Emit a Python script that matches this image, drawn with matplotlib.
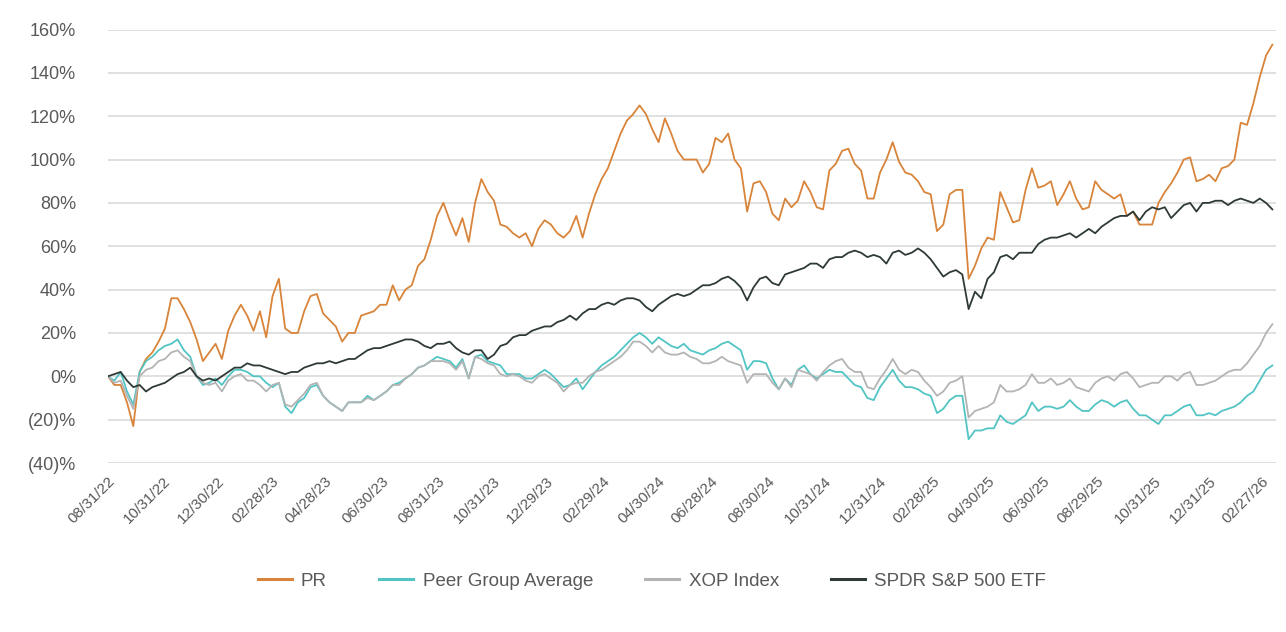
import matplotlib
matplotlib.use("Agg")
import matplotlib.pyplot as plt
import matplotlib.transforms as mtrans
import pandas as pd

plt.rcParams['font.family'] = ['Liberation Sans', 'DejaVu Sans']

# weekly observations, cumulative total return in %
start_date = '2022-08-31'
n_weeks = 185

pr = [0, -4, -4, -12, -23, 2, 8, 11, 16, 22,
      36, 36, 31, 25, 17, 7, 11, 15, 8, 21,
      28, 33, 28, 21, 30, 18, 37, 45, 22, 20,
      20, 30, 37, 38, 29, 26, 23, 16, 20, 20,
      28, 29, 30, 33, 33, 42, 35, 40, 42, 51,
      54, 63, 74, 80, 72, 65, 73, 62, 80, 91,
      85, 81, 70, 69, 66, 64, 66, 60, 68, 72,
      70, 66, 64, 67, 74, 64, 75, 84, 91, 96,
      104, 112, 118, 121, 125, 121, 114, 108, 119, 112,
      104, 100, 100, 100, 94, 98, 110, 108, 112, 100,
      96, 76, 89, 90, 85, 75, 72, 82, 78, 81,
      90, 85, 78, 77, 95, 98, 104, 105, 98, 95,
      82, 82, 94, 100, 108, 99, 94, 93, 90, 85,
      84, 67, 70, 84, 86, 86, 45, 51, 59, 64,
      63, 85, 78, 71, 72, 86, 96, 87, 88, 90,
      79, 84, 90, 82, 77, 78, 90, 86, 84, 82,
      84, 74, 76, 70, 70, 70, 80, 85, 89, 94,
      100, 101, 90, 91, 93, 90, 96, 97, 100, 117,
      116, 126, 138, 148, 153]

peer = [0, -2, 2, -7, -13, 2, 7, 9, 12, 14,
        15, 17, 12, 9, 0, -4, -3, -1, -4, 0,
        3, 3, 2, 0, 0, -3, -5, -3, -14, -17,
        -12, -10, -5, -4, -9, -12, -14, -16, -12, -12,
        -12, -9, -11, -9, -7, -4, -3, -1, 1, 4,
        5, 7, 9, 8, 7, 4, 8, -1, 9, 10,
        7, 6, 5, 1, 1, 1, -1, -1, 1, 3,
        1, -2, -5, -4, -1, -6, -2, 2, 5, 7,
        9, 12, 15, 18, 20, 18, 15, 18, 16, 14,
        13, 15, 12, 11, 10, 12, 13, 15, 16, 14,
        12, 3, 7, 7, 6, -1, -6, -1, -4, 3,
        5, 1, -1, 1, 3, 2, 2, -1, -4, -5,
        -10, -11, -5, -1, 3, -2, -5, -5, -6, -8,
        -9, -17, -15, -11, -9, -9, -29, -25, -25, -24,
        -24, -18, -21, -22, -20, -18, -12, -16, -14, -14,
        -15, -14, -11, -14, -16, -16, -13, -11, -12, -14,
        -12, -11, -15, -18, -18, -20, -22, -18, -18, -16,
        -14, -13, -18, -18, -17, -18, -16, -15, -14, -12,
        -9, -7, -2, 3, 5]

xop = [0, -3, -2, -9, -15, 0, 3, 4, 7, 8,
       11, 12, 9, 7, 0, -3, -4, -3, -7, -2,
       0, 1, -2, -2, -4, -7, -4, -3, -13, -14,
       -11, -8, -4, -3, -9, -12, -14, -16, -12, -12,
       -12, -10, -11, -9, -7, -4, -4, -1, 1, 4,
       5, 7, 7, 7, 6, 3, 7, -1, 9, 8,
       6, 5, 1, 0, 1, 0, -2, -3, 0, 1,
       -1, -3, -7, -4, -3, -3, 0, 2, 3, 5,
       7, 9, 12, 16, 16, 14, 11, 14, 11, 10,
       10, 11, 9, 8, 6, 6, 7, 9, 7, 6,
       5, -3, 1, 1, 1, -3, -6, -1, -5, 3,
       2, 1, -2, 2, 5, 7, 8, 4, 2, 2,
       -5, -6, -1, 3, 8, 3, 1, 3, 2, -2,
       -5, -9, -7, -3, -2, 0, -19, -16, -15, -14,
       -12, -4, -7, -7, -6, -4, 1, -3, -3, -1,
       -4, -3, -1, -5, -6, -7, -3, -1, 0, -2,
       1, 2, -1, -5, -4, -3, -3, 0, 0, -2,
       1, 2, -4, -4, -3, -2, 0, 2, 3, 3,
       6, 10, 14, 20, 24]

spy = [0, 1, 2, -2, -5, -4, -7, -5, -4, -3,
       -1, 1, 2, 4, 0, -2, -1, -2, 0, 2,
       4, 4, 6, 5, 5, 4, 3, 2, 1, 2,
       2, 4, 5, 6, 6, 7, 6, 7, 8, 8,
       10, 12, 13, 13, 14, 15, 16, 17, 17, 16,
       14, 13, 15, 15, 16, 13, 11, 10, 12, 12,
       8, 10, 14, 15, 18, 19, 19, 21, 22, 23,
       23, 25, 26, 28, 26, 29, 31, 31, 33, 34,
       33, 35, 36, 36, 35, 32, 30, 33, 35, 37,
       38, 37, 38, 40, 42, 42, 43, 45, 46, 44,
       41, 35, 41, 45, 46, 43, 42, 47, 48, 49,
       50, 52, 52, 50, 54, 55, 55, 57, 58, 57,
       55, 56, 55, 52, 57, 58, 56, 57, 59, 57,
       54, 50, 46, 48, 49, 47, 31, 39, 36, 45,
       48, 55, 56, 54, 57, 57, 57, 61, 63, 64,
       64, 65, 66, 64, 66, 68, 66, 69, 71, 73,
       74, 74, 76, 72, 76, 78, 77, 78, 73, 76,
       79, 80, 76, 80, 80, 81, 81, 79, 81, 82,
       81, 80, 82, 80, 77]

tick_labels = ['08/31/22', '10/31/22', '12/30/22', '02/28/23', '04/28/23', '06/30/23',
               '08/31/23', '10/31/23', '12/29/23', '02/29/24', '04/30/24', '06/28/24',
               '08/30/24', '10/31/24', '12/31/24', '02/28/25', '04/30/25', '06/30/25',
               '08/29/25', '10/31/25', '12/31/25', '02/27/26']

dates = pd.date_range(start_date, periods=n_weeks, freq='7D')

fig = plt.figure(figsize=(12.86, 6.32), dpi=100)
ax = fig.add_axes([108 / 1286, 1 - 463 / 632, 1168 / 1286, 433.5 / 632])

ax.plot(dates, pr, color='#D8843A', lw=1.3, label='PR')
ax.plot(dates, peer, color='#52C4C4', lw=1.3, label='Peer Group Average')
ax.plot(dates, xop, color='#B4B4B4', lw=1.3, label='XOP Index')
ax.plot(dates, spy, color='#2E3A35', lw=1.3, label='SPDR S&P 500 ETF')

ax.set_ylim(-40, 160)
ax.set_xlim(pd.Timestamp(start_date), pd.Timestamp(start_date) + pd.Timedelta(days=1292))

yt = list(range(-40, 161, 20))
ax.set_yticks(yt)
ax.set_yticklabels([f'{v}%' if v >= 0 else f'({-v})%' for v in yt],
                   fontsize=13, color='#595959')

tick_dates = pd.to_datetime(tick_labels, format='%m/%d/%y')
ax.set_xticks(tick_dates)
ax.set_xticklabels(tick_labels, rotation=45, ha='right', rotation_mode='anchor',
                   fontsize=11, color='#595959')
shift = mtrans.ScaledTranslation(-6 / 100, 2 / 100, fig.dpi_scale_trans)
for lab in ax.get_xticklabels():
    lab.set_transform(lab.get_transform() + shift)

ax.tick_params(axis='y', length=0, pad=23)
ax.tick_params(axis='x', length=0, pad=8)
ax.yaxis.grid(True, color='#E0E0E0', lw=1.4)
ax.set_axisbelow(True)
for s in ax.spines.values():
    s.set_visible(False)

leg = fig.legend(loc='center', bbox_to_anchor=(0.507, 1 - 581 / 632), ncol=4, frameon=False,
                 fontsize=13.5, handlelength=1.8, columnspacing=2.8, handletextpad=0.5)
for t in leg.get_texts():
    t.set_color('#595959')
for h in leg.get_lines():
    h.set_linewidth(2.2)

fig.savefig('out.png', dpi=100)
